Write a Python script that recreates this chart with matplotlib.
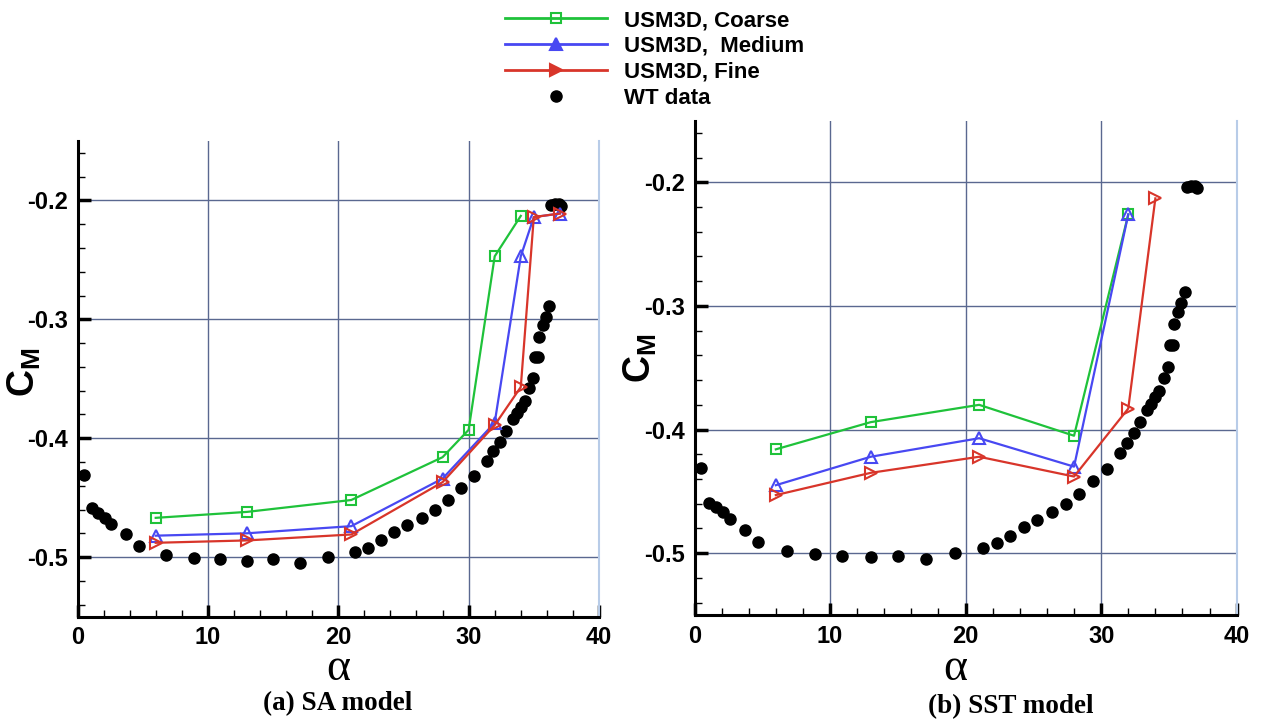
import matplotlib
matplotlib.use('Agg')
import matplotlib.pyplot as plt
from matplotlib.lines import Line2D
from matplotlib.ticker import MultipleLocator

plt.rcParams['font.family'] = ['Liberation Sans', 'DejaVu Sans']
plt.rcParams['mathtext.fontset'] = 'custom'
plt.rcParams['mathtext.bf'] = 'Liberation Sans:bold'
plt.rcParams['mathtext.rm'] = 'Liberation Sans'

W, H = 1262, 728

# wind tunnel data (same for both panels)
alpha_wt = [0.5, 1.1, 1.6, 2.1, 2.6, 3.7, 4.7, 6.8, 8.9, 10.9,
            13.0, 15.0, 17.1, 19.2, 21.3, 22.3, 23.3, 24.3, 25.3, 26.4,
            27.4, 28.4, 29.4, 30.4, 31.4, 31.9, 32.4, 32.9, 33.4, 33.7,
            34.0, 34.3, 34.6, 34.9, 35.1, 35.3, 35.4, 35.7, 35.9, 36.15,
            36.3, 36.6, 36.9, 37.1]
cm_wt = [-0.431, -0.459, -0.463, -0.467, -0.472, -0.481, -0.491, -0.498, -0.501, -0.502,
         -0.503, -0.502, -0.505, -0.500, -0.496, -0.492, -0.486, -0.479, -0.473, -0.467,
         -0.460, -0.452, -0.442, -0.432, -0.419, -0.411, -0.403, -0.394, -0.384, -0.379,
         -0.374, -0.369, -0.358, -0.349, -0.332, -0.332, -0.315, -0.305, -0.298, -0.289,
         -0.204, -0.203, -0.203, -0.205]

# (a) SA model
sa_coarse_a = [6, 13, 21, 28, 30, 32, 34]
sa_coarse_cm = [-0.467, -0.462, -0.452, -0.416, -0.393, -0.247, -0.213]
sa_medium_a = [6, 13, 21, 28, 32, 34, 35, 37]
sa_medium_cm = [-0.482, -0.480, -0.474, -0.434, -0.387, -0.247, -0.214, -0.211]
sa_fine_a = [6, 13, 21, 28, 32, 34, 35, 37]
sa_fine_cm = [-0.488, -0.486, -0.481, -0.437, -0.389, -0.357, -0.214, -0.211]

# (b) SST model
sst_coarse_a = [6, 13, 21, 28, 32]
sst_coarse_cm = [-0.416, -0.394, -0.380, -0.405, -0.226]
sst_medium_a = [6, 13, 21, 28, 32]
sst_medium_cm = [-0.445, -0.422, -0.407, -0.430, -0.226]
sst_fine_a = [6, 13, 21, 28, 32, 34]
sst_fine_cm = [-0.453, -0.435, -0.422, -0.438, -0.383, -0.213]

labels = ['USM3D, Coarse', 'USM3D,  Medium', 'USM3D, Fine', 'WT data']
colors = ['#1fc23a', '#4848f2', '#d8352a']
markers = ['s', '^', '>']
msizes = [7, 9, 9]

fig = plt.figure(figsize=(W / 100, H / 100), dpi=100)


def px_axes(x0, x1, y0, y1):
    # axes placed by pixel edges (top-left origin)
    return fig.add_axes([x0 / W, 1 - y1 / H, (x1 - x0) / W, (y1 - y0) / H])


def style_axes(ax):
    ax.set_xlim(0, 40)
    ax.set_ylim(-0.55, -0.15)
    ax.xaxis.set_major_locator(MultipleLocator(10))
    ax.xaxis.set_minor_locator(MultipleLocator(2))
    ax.yaxis.set_minor_locator(MultipleLocator(0.02))
    ax.set_yticks([-0.5, -0.4, -0.3, -0.2])
    ax.set_yticklabels(['-0.5', '-0.4', '-0.3', '-0.2'])
    ax.spines['top'].set_visible(False)
    ax.spines['right'].set_color('#b8cce8')
    ax.spines['right'].set_linewidth(1.5)
    for s in ['left', 'bottom']:
        ax.spines[s].set_linewidth(2.2)
    ax.tick_params(which='major', direction='in', length=9, width=2.5,
                   top=False, right=False, pad=7)
    ax.tick_params(which='minor', direction='in', length=5, width=1,
                   top=False, right=False)
    for lab in ax.get_xticklabels() + ax.get_yticklabels():
        lab.set_fontsize(17)
        lab.set_fontweight('bold')
    ax.grid(True, which='major', color='#5a6890', linewidth=1)
    ax.set_axisbelow(True)


def draw_panel(ax, series):
    ax.plot(alpha_wt, cm_wt, 'o', color='black', markersize=8, zorder=2)
    for (a, cm), c, m, ms in zip(series, colors, markers, msizes):
        ax.plot(a, cm, '-', marker=m, color=c, markersize=ms, mfc='none',
                mew=1.5, linewidth=1.6, zorder=3)
    style_axes(ax)


ax1 = px_axes(77.5, 599, 141, 616.5)
draw_panel(ax1, [(sa_coarse_a, sa_coarse_cm), (sa_medium_a, sa_medium_cm),
                 (sa_fine_a, sa_fine_cm)])

ax2 = px_axes(694.5, 1236.7, 120.5, 615)
draw_panel(ax2, [(sst_coarse_a, sst_coarse_cm), (sst_medium_a, sst_medium_cm),
                 (sst_fine_a, sst_fine_cm)])

# axis titles
for x, y in [(24, 372), (640, 358)]:
    fig.text(x / W, 1 - y / H, r'$\mathbf{C}_{\mathbf{M}}$', rotation=90,
             fontsize=27, ha='center', va='center')
for x, y in [(338, 669), (955, 669)]:
    fig.text(x / W, 1 - y / H, 'α', family='Liberation Serif', fontsize=33,
             ha='center', va='center')

# panel captions
fig.text(338 / W, 1 - 704 / H, '(a) SA model', family='Liberation Serif',
         fontweight='bold', fontsize=19.5, ha='center', va='center')
fig.text(1011 / W, 1 - 707 / H, '(b) SST model', family='Liberation Serif',
         fontweight='bold', fontsize=19.5, ha='center', va='center')

# shared legend
handles = [Line2D([], [], color=c, marker=m, markersize=ms,
                  mfc='none' if m == 's' else c, mew=1.5, linewidth=2)
           for c, m, ms in zip(colors, markers, msizes)]
handles.append(Line2D([], [], color='black', marker='o', markersize=8,
                      linestyle='none'))
leg = fig.legend(handles, labels, loc='upper left',
                 bbox_to_anchor=(505 / W, 1 - 10 / H), frameon=False,
                 handlelength=4.6, handletextpad=0.75, labelspacing=0.22,
                 borderpad=0, borderaxespad=0,
                 prop={'family': 'Liberation Sans', 'weight': 'bold', 'size': 16})

fig.savefig('out.png', dpi=100)
